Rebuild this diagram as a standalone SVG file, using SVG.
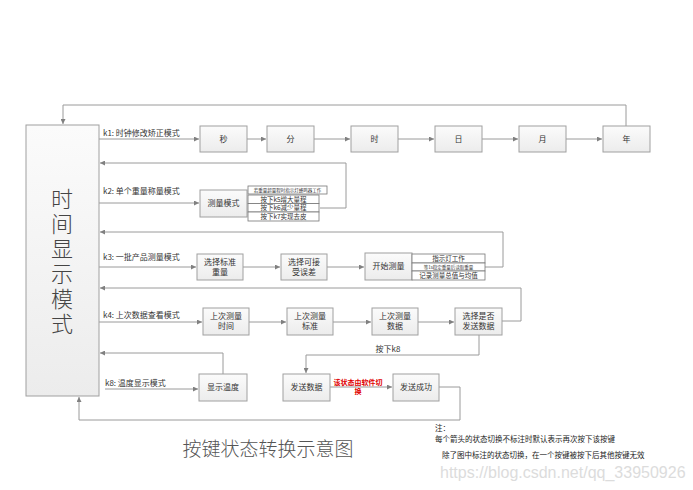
<svg xmlns="http://www.w3.org/2000/svg" width="693" height="490" viewBox="0 0 693 490">
<defs>
<linearGradient id="g" x1="0" y1="0" x2="0" y2="1"><stop offset="0" stop-color="#fbfbfb"/><stop offset="1" stop-color="#ececec"/></linearGradient>
<marker id="ar" markerUnits="userSpaceOnUse" markerWidth="5" markerHeight="5" refX="5" refY="2.5" orient="auto"><path d="M0,0 L5,2.5 L0,5 z" fill="#808080"/></marker>
<style>
.b{fill:url(#g);stroke:#a0a0a0;stroke-width:1}
.s{fill:#fff;stroke:#777;stroke-width:0.8}
.t{font-family:"Noto Sans CJK SC","Liberation Sans",sans-serif;font-size:8px;fill:#333;text-anchor:middle}
.l{font-family:"Noto Sans CJK SC","Liberation Sans",sans-serif;font-size:8px;fill:#333}
.r{font-family:"Noto Sans CJK SC","Liberation Sans",sans-serif;font-size:6.5px;fill:#333;text-anchor:middle}
.m{font-family:"Noto Sans CJK SC","Liberation Sans",sans-serif;font-size:4.5px;fill:#333;text-anchor:middle}
.c{fill:none;stroke:#9a9a9a;stroke-width:1}
.a{marker-end:url(#ar)}
</style>
</defs>
<rect width="693" height="490" fill="#fff"/>
<g id="connectors">
<path class="c a" d="M626,126 V105 H63 V124"/>
<path class="c a" d="M99,139 H199"/>
<path class="c a" d="M247,139 H266"/>
<path class="c a" d="M314,139 H350"/>
<path class="c a" d="M398,139 H434"/>
<path class="c a" d="M482,139 H518"/>
<path class="c a" d="M566,139 H602"/>
<path class="c a" d="M320,208 H346 V163 H100"/>
<path class="c a" d="M99,203 H199"/>
<path class="c a" d="M485,267 H503 V232 H100"/>
<path class="c a" d="M99,267 H196"/>
<path class="c a" d="M243,267 H280"/>
<path class="c a" d="M327,267 H364"/>
<path class="c a" d="M502,321 H521 V288 H100"/>
<path class="c a" d="M99,322 H202"/>
<path class="c a" d="M249,322 H286"/>
<path class="c a" d="M333,322 H371"/>
<path class="c a" d="M418,322 H454"/>
<path class="c a" d="M223,374 V353 H100"/>
<path class="c a" d="M105,389 H198"/>
<path class="c a" d="M479,335 V355 H306 V373"/>
<path class="c a" d="M330,387 H392"/>
<path class="c a" d="M439,387 H460 V420 H79 V397"/>
</g>
<g id="main"><rect class="b" x="26" y="125" width="73" height="271"/>
<text x="62" y="188" writing-mode="tb" letter-spacing="3" font-family="Noto Sans CJK SC,sans-serif" font-size="22" fill="#444" font-weight="300">时间显示模式</text></g>
<g id="labels">
<text class="l" x="103" y="136">k1: 时钟修改矫正模式</text>
<text class="l" x="103" y="194">k2: 单个重量称量模式</text>
<text class="l" x="103" y="260">k3: 一批产品测量模式</text>
<text class="l" x="103" y="318">k4: 上次数据查看模式</text>
<text class="l" x="105" y="386">k8: 温度显示模式</text>
<text class="t" x="388" y="352">按下k8</text>
<text x="358" y="385" font-family="Noto Sans CJK SC,sans-serif" font-size="7" font-weight="bold" fill="#e00000" text-anchor="middle">该状态由软件切</text>
<text x="358" y="394" font-family="Noto Sans CJK SC,sans-serif" font-size="7" font-weight="bold" fill="#e00000" text-anchor="middle">换</text>
</g>
<g id="n-sec"><rect class="b" x="200" y="126" width="47" height="26"/><text class="t" x="223.5" y="142">秒</text></g>
<g id="n-min"><rect class="b" x="267" y="126" width="47" height="26"/><text class="t" x="290.5" y="142">分</text></g>
<g id="n-hour"><rect class="b" x="351" y="126" width="47" height="26"/><text class="t" x="374.5" y="142">时</text></g>
<g id="n-day"><rect class="b" x="435" y="126" width="47" height="26"/><text class="t" x="458.5" y="142">日</text></g>
<g id="n-month"><rect class="b" x="519" y="126" width="47" height="26"/><text class="t" x="542.5" y="142">月</text></g>
<g id="n-year"><rect class="b" x="603" y="126" width="47" height="26"/><text class="t" x="626.5" y="142">年</text></g>
<g id="n-measure"><rect class="b" x="200" y="190" width="47" height="27"/><text class="t" x="223.5" y="206">测量模式</text></g>
<g id="n-k2list">
<rect class="s" x="248" y="186" width="79" height="8"/><text class="m" x="287.5" y="191.8">若重量超量程时指示灯蜂鸣器工作</text>
<rect class="s" x="248" y="195" width="71" height="8.5"/><text class="r" x="283.5" y="201.7">按下k5增大量程</text>
<rect class="s" x="248" y="203.5" width="71" height="8.5"/><text class="r" x="283.5" y="210.2">按下k6减少量程</text>
<rect class="s" x="248" y="212" width="71" height="9"/><text class="r" x="283.5" y="218.9">按下k7实现去皮</text>
</g>
<g id="n-std"><rect class="b" x="197" y="254" width="46" height="26"/><text class="t" x="220" y="265">选择标准</text><text class="t" x="220" y="275">重量</text></g>
<g id="n-err"><rect class="b" x="281" y="254" width="46" height="26"/><text class="t" x="304" y="265">选择可接</text><text class="t" x="304" y="275">受误差</text></g>
<g id="n-start"><rect class="b" x="365" y="253" width="47" height="27"/><text class="t" x="388.5" y="269">开始测量</text></g>
<g id="n-k3list">
<rect class="s" x="412" y="254" width="73" height="9"/><text class="r" x="448.5" y="261">指示灯工作</text>
<rect class="s" x="412" y="263" width="73" height="8"/><text class="m" x="448.5" y="268.8">等1s稳定重量后读取重量</text>
<rect class="s" x="412" y="271" width="73" height="9"/><text class="r" x="448.5" y="278">记录测量总值与均值</text>
</g>
<g id="n-lasttime"><rect class="b" x="203" y="308" width="46" height="27"/><text class="t" x="226" y="319">上次测量</text><text class="t" x="226" y="329">时间</text></g>
<g id="n-laststd"><rect class="b" x="287" y="308" width="46" height="27"/><text class="t" x="310" y="319">上次测量</text><text class="t" x="310" y="329">标准</text></g>
<g id="n-lastdata"><rect class="b" x="372" y="308" width="46" height="27"/><text class="t" x="395" y="319">上次测量</text><text class="t" x="395" y="329">数据</text></g>
<g id="n-choose"><rect class="b" x="455" y="308" width="47" height="27"/><text class="t" x="478.5" y="319">选择是否</text><text class="t" x="478.5" y="329">发送数据</text></g>
<g id="n-temp"><rect class="b" x="199" y="374" width="48" height="27"/><text class="t" x="223" y="390">显示温度</text></g>
<g id="n-send"><rect class="b" x="283" y="374" width="47" height="27"/><text class="t" x="306.5" y="390">发送数据</text></g>
<g id="n-ok"><rect class="b" x="393" y="374" width="46" height="27"/><text class="t" x="416" y="390">发送成功</text></g>
<text x="268" y="456" font-family="Noto Sans CJK SC,sans-serif" font-size="19" font-weight="300" fill="#555" text-anchor="middle">按键状态转换示意图</text>
<g font-family="Noto Sans CJK SC,sans-serif" font-size="7.5" fill="#222">
<text x="435" y="431">注：</text>
<text x="435" y="442">每个箭头的状态切换不标注时默认表示再次按下该按键</text>
<text x="442" y="458">除了图中标注的状态切换，在一个按键被按下后其他按键无效</text>
</g>
<text x="440" y="478" font-family="Liberation Sans,sans-serif" font-size="16" fill="#dcdcdc">https://blog.csdn.net/qq_33950926</text>
</svg>
